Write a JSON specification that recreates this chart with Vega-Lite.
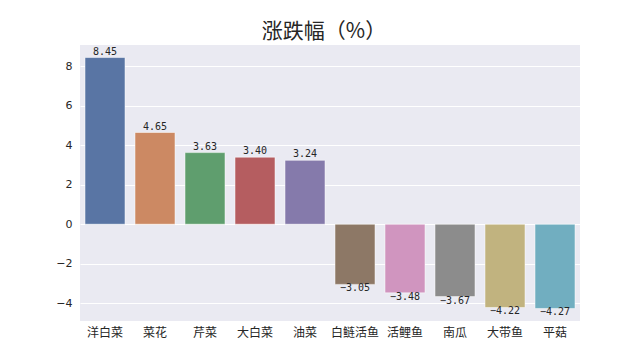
{
  "$schema": "https://vega.github.io/schema/vega-lite/v6.json",
  "width": 500,
  "height": 276,
  "autosize": "none",
  "padding": {"left": 80, "top": 45, "right": 61, "bottom": 40},
  "background": "white",
  "title": {"text": "涨跌幅（%）", "font": "Noto Sans CJK SC", "fontSize": 21, "fontWeight": "normal", "color": "#262626", "anchor": "middle", "dx": -6, "offset": 3},
  "config": {
    "view": {"fill": "#eaeaf2", "stroke": null},
    "font": "Noto Sans CJK SC"
  },
  "data": {"values": [
    {"name": "洋白菜", "v": 8.45},
    {"name": "菜花", "v": 4.65},
    {"name": "芹菜", "v": 3.63},
    {"name": "大白菜", "v": 3.40},
    {"name": "油菜", "v": 3.24},
    {"name": "白鲢活鱼", "v": -3.05},
    {"name": "活鲤鱼", "v": -3.48},
    {"name": "南瓜", "v": -3.67},
    {"name": "大带鱼", "v": -4.22},
    {"name": "平菇", "v": -4.27}
  ]},
  "encoding": {
    "x": {"field": "name", "type": "nominal", "sort": null,
      "scale": {"paddingInner": 0.2, "paddingOuter": 0.1},
      "axis": {"title": null, "labelAngle": 0, "domain": false, "ticks": false, "labelFontSize": 12, "labelColor": "#262626", "labelPadding": 6, "grid": false}},
    "y": {"field": "v", "type": "quantitative",
      "scale": {"domain": [-4.906, 9.086], "nice": false, "zero": false},
      "axis": {"title": null, "values": [-4, -2, 0, 2, 4, 6, 8], "domain": false, "ticks": false, "labelFontSize": 11, "labelColor": "#262626", "labelPadding": 8, "gridColor": "white", "gridWidth": 1, "labelFont": "DejaVu Sans"}}
  },
  "layer": [
    {"mark": {"type": "bar", "stroke": "white", "strokeWidth": 0.5},
     "encoding": {
       "color": {"field": "name", "type": "nominal", "sort": null, "legend": null,
         "scale": {"range": ["#5975a4", "#cc8963", "#5f9e6e", "#b55d60", "#857aab", "#8d7866", "#d095bf", "#8c8c8c", "#c1b37f", "#71aec0"]}}
     }},
    {"transform": [{"filter": "datum.v > 0"}],
     "mark": {"type": "text", "baseline": "bottom", "dy": -1, "fontSize": 10, "color": "#262626", "font": "DejaVu Sans Mono"},
     "encoding": {"text": {"field": "v", "type": "quantitative", "format": ".2f"}}},
    {"transform": [{"filter": "datum.v < 0"}],
     "mark": {"type": "text", "baseline": "top", "dy": -1, "fontSize": 10, "color": "#262626", "font": "DejaVu Sans Mono"},
     "encoding": {"text": {"field": "v", "type": "quantitative", "format": ".2f"}}}
  ]
}
